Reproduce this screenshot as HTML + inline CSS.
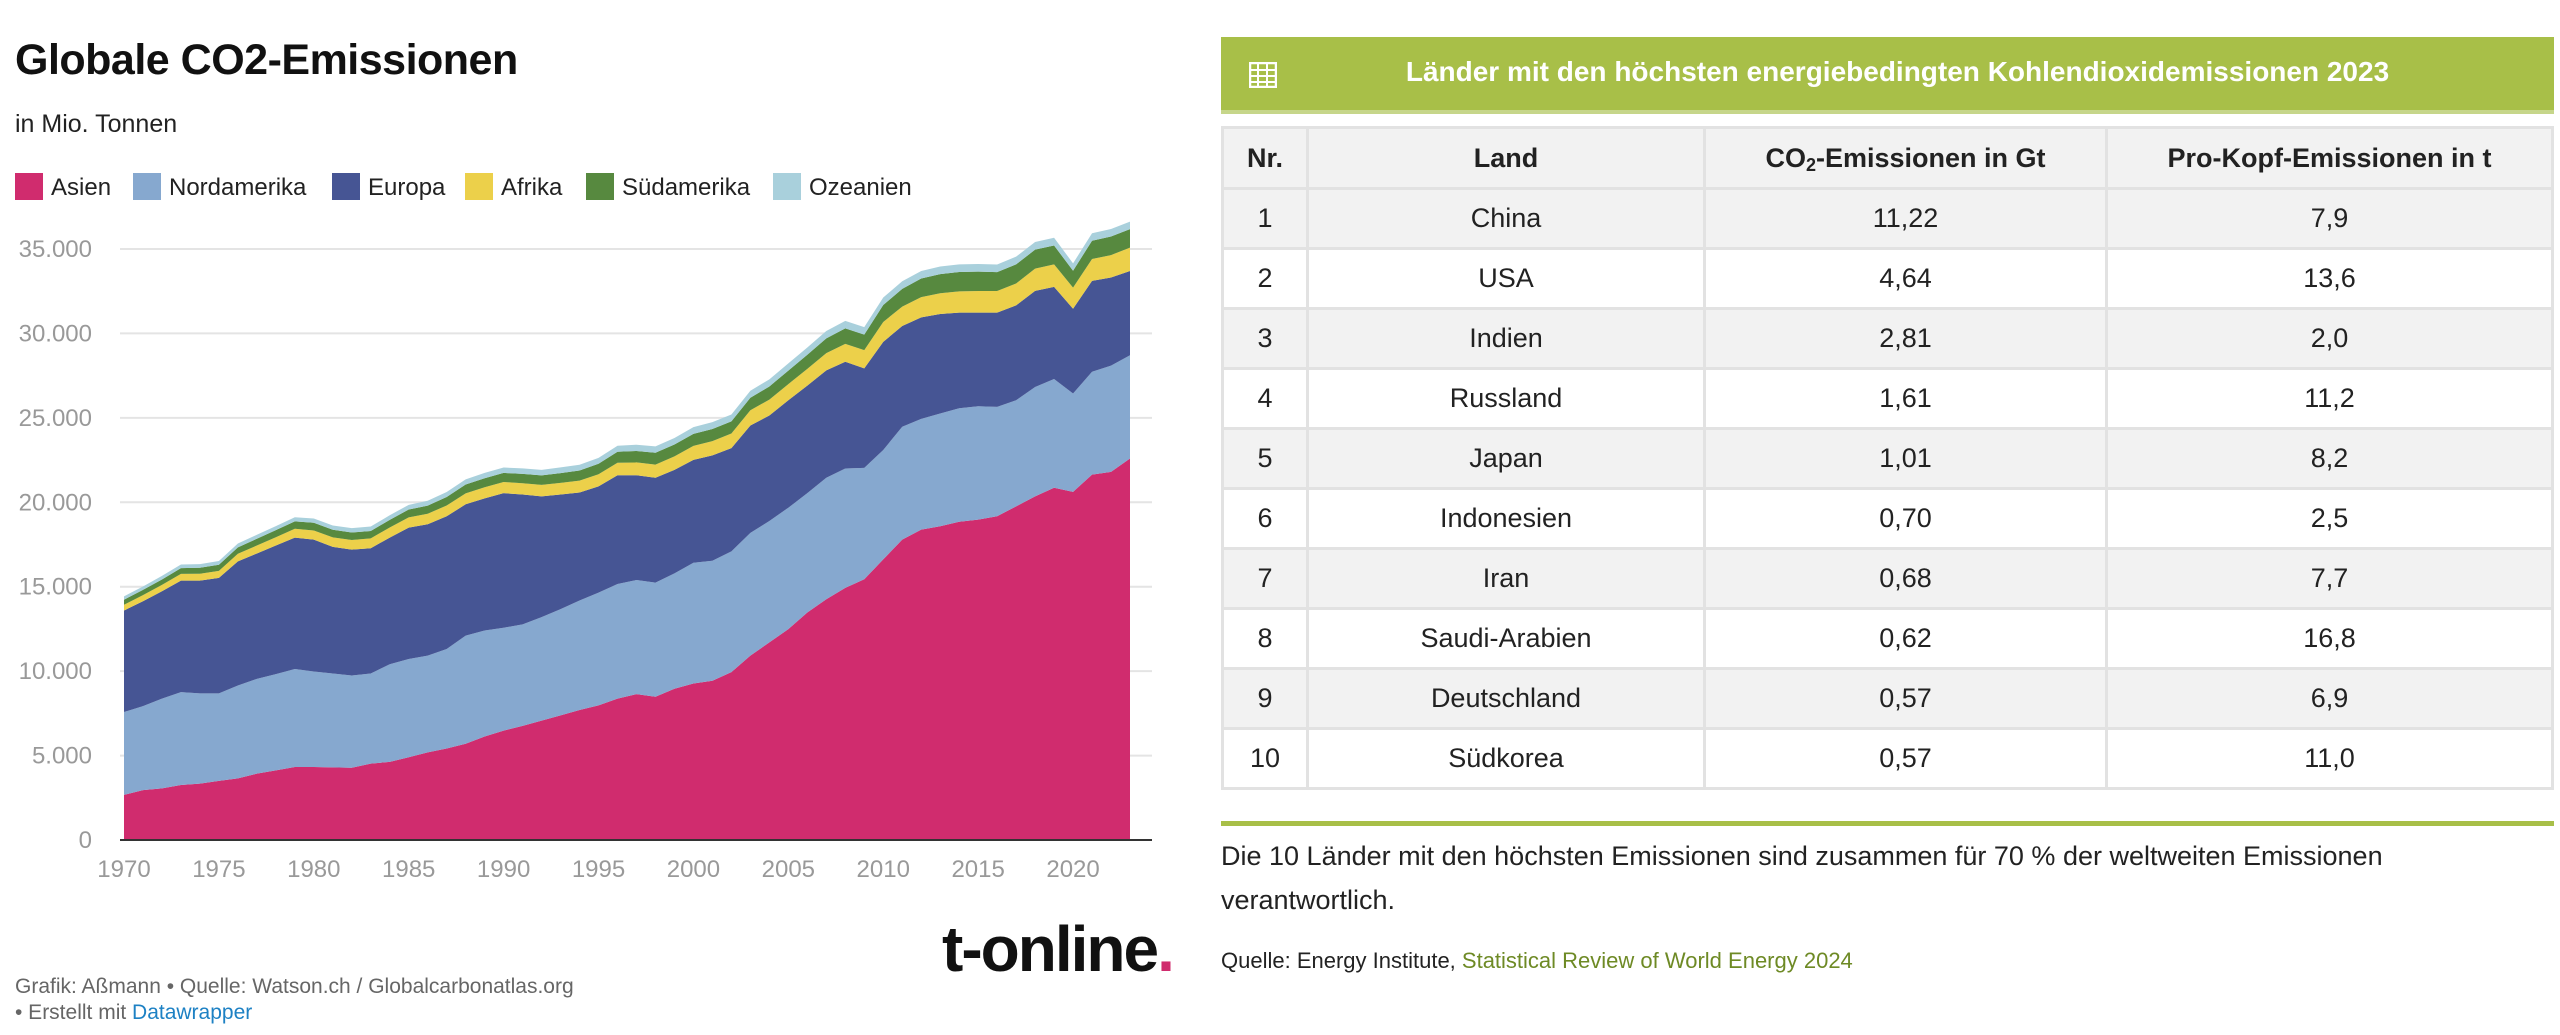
<!DOCTYPE html>
<html><head><meta charset="utf-8">
<style>
body{margin:0;width:2560px;height:1035px;background:#fff;font-family:"Liberation Sans",sans-serif;position:relative;overflow:hidden;color:#222}
.abs{position:absolute}
table{border-collapse:collapse;position:absolute;left:1221px;top:126px;width:1333px;font-size:27px;color:#222}
td,th{border:3px solid #e2e2e2;text-align:center;height:57px;padding:0}
th{background:#f2f2f2;font-weight:bold;height:58px}
sub{font-size:18px;line-height:0;position:relative;top:4px;vertical-align:baseline}
tr:nth-child(even) td{background:#f2f2f2}
</style></head><body>
<div class="abs" style="left:15px;top:36px;font-size:43px;font-weight:bold;color:#111;letter-spacing:-0.5px">Globale CO2-Emissionen</div>
<div class="abs" style="left:15px;top:110px;font-size:25px;color:#222">in Mio. Tonnen</div>
<svg id="chart" class="abs" style="left:0;top:0" width="1200" height="1035"></svg>
<div class="abs" style="left:942px;top:912px;font-size:64px;font-weight:bold;color:#111;letter-spacing:-2px">t-online<span style="color:#d02c6e">.</span></div>
<div class="abs" style="left:15px;top:975px;font-size:21px;color:#666">Grafik: Aßmann • Quelle: Watson.ch / Globalcarbonatlas.org</div>
<div class="abs" style="left:15px;top:1001px;font-size:21px;color:#666"> • Erstellt mit <span style="color:#1d81c4">Datawrapper</span></div>

<div class="abs" style="left:1221px;top:37px;width:1333px;height:77px;background:#a8bf48;border-bottom:4px solid #c6d68a;box-sizing:border-box">
 <svg class="abs" style="left:28px;top:25px" width="28" height="26"><rect x="1" y="1" width="26" height="24" fill="none" stroke="#fff" stroke-width="2.5"/><path d="M1 8H27M1 14H27M1 20H27M9 1V25M18 1V25" stroke="#fff" stroke-width="2"/></svg>
 <div class="abs" style="left:0;width:1333px;top:19px;text-align:center;color:#fff;font-weight:bold;font-size:28px;padding-left:10px">Länder mit den höchsten energiebedingten Kohlendioxidemissionen 2023</div>
</div>
<table>
<tr><th style="width:82px">Nr.</th><th style="width:394px">Land</th><th style="width:399px">CO<sub>2</sub>-Emissionen in Gt</th><th>Pro-Kopf-Emissionen in t</th></tr>
<tr><td>1</td><td>China</td><td>11,22</td><td>7,9</td></tr>
<tr><td>2</td><td>USA</td><td>4,64</td><td>13,6</td></tr>
<tr><td>3</td><td>Indien</td><td>2,81</td><td>2,0</td></tr>
<tr><td>4</td><td>Russland</td><td>1,61</td><td>11,2</td></tr>
<tr><td>5</td><td>Japan</td><td>1,01</td><td>8,2</td></tr>
<tr><td>6</td><td>Indonesien</td><td>0,70</td><td>2,5</td></tr>
<tr><td>7</td><td>Iran</td><td>0,68</td><td>7,7</td></tr>
<tr><td>8</td><td>Saudi-Arabien</td><td>0,62</td><td>16,8</td></tr>
<tr><td>9</td><td>Deutschland</td><td>0,57</td><td>6,9</td></tr>
<tr><td>10</td><td>Südkorea</td><td>0,57</td><td>11,0</td></tr>
</table>
<div class="abs" style="left:1221px;top:821px;width:1333px;height:5px;background:#a8bf48"></div>
<div class="abs" style="left:1221px;top:834px;width:1320px;font-size:27px;line-height:44px;color:#222">Die 10 Länder mit den höchsten Emissionen sind zusammen für 70 % der weltweiten Emissionen verantwortlich.</div>
<div class="abs" style="left:1221px;top:948px;font-size:22px;color:#222">Quelle: Energy Institute, <span style="color:#6e8a25">Statistical Review of World Energy 2024</span></div>

<script>
const years=[];for(let y=1970;y<=2023;y++)years.push(y);
const asien=[2670,2950,3060,3260,3340,3500,3650,3930,4120,4320,4320,4300,4280,4520,4630,4900,5190,5420,5700,6130,6480,6760,7070,7380,7700,7970,8370,8640,8480,8960,9270,9430,9940,10920,11700,12490,13470,14260,14930,15440,16620,17790,18380,18580,18850,18970,19170,19760,20350,20860,20620,21640,21800,22590];
const nordamerika=[4910,4980,5310,5500,5340,5180,5500,5610,5700,5810,5660,5560,5460,5340,5780,5820,5730,5890,6400,6280,6090,6010,6130,6290,6480,6680,6790,6760,6760,6830,7150,7110,7150,7270,7190,7190,7070,7190,7070,6600,6480,6680,6560,6680,6720,6720,6480,6280,6480,6440,5820,6090,6290,6120];
const europa=[6010,6210,6360,6600,6680,6840,7350,7430,7620,7780,7810,7500,7460,7420,7500,7780,7780,7860,7780,7820,7970,7690,7150,6790,6400,6290,6440,6200,6210,6130,6090,6240,6120,6360,6250,6360,6370,6360,6320,5890,6400,5970,6010,5890,5660,5540,5580,5620,5690,5460,5020,5380,5220,4990];
const afrika=[340,360,380,400,410,420,450,470,490,520,540,560,570,580,600,610,620,640,650,660,660,670,680,690,700,720,740,760,780,800,830,840,860,900,940,960,990,1020,1060,1080,1180,1150,1200,1230,1260,1280,1280,1300,1320,1330,1250,1300,1330,1380];
const suedamerika=[300,310,320,340,350,360,380,400,420,440,460,450,440,440,450,460,480,500,520,530,540,550,560,580,600,620,650,680,700,700,710,720,720,740,780,800,840,880,920,920,1000,1050,1100,1130,1150,1150,1120,1130,1120,1120,1000,1080,1100,1100];
const ozeanien=[200,205,210,215,220,225,230,235,240,245,250,255,260,265,270,280,290,300,310,320,320,325,330,335,340,350,360,370,380,390,400,405,410,415,420,425,430,435,440,440,445,450,450,450,450,450,450,455,455,455,440,445,445,440];
const seriesNames=["Asien","Nordamerika","Europa","Afrika","Südamerika","Ozeanien"];
const seriesData=[asien,nordamerika,europa,afrika,suedamerika,ozeanien];
const yTicks=[0,5000,10000,15000,20000,25000,30000,35000];
const yTickLabels=["0","5.000","10.000","15.000","20.000","25.000","30.000","35.000"];
const xTicks=[1970,1975,1980,1985,1990,1995,2000,2005,2010,2015,2020];
const colors=["#d02c6e","#86a8cf","#465594","#ecd04a","#57893f","#a9d0dc"];
const NS="http://www.w3.org/2000/svg";
const svg=document.getElementById('chart');
const X0=124,X1=1130,Y0=840,Y35=249;
const x=y=>X0+(y-1970)*(X1-X0)/(2023-1970);
const yv=v=>Y0-v*(Y0-Y35)/35000;
function mk(t,a){const e=document.createElementNS(NS,t);for(const k in a)e.setAttribute(k,a[k]);svg.appendChild(e);return e;}
yTicks.forEach((t,i)=>{
 if(t>0){const g=mk('line',{x1:X0-4,x2:1152,y1:yv(t),y2:yv(t),stroke:'#e4e4e4','stroke-width':2});
 
 }
 const l=mk('text',{x:92,y:yv(t)+8,'text-anchor':'end','font-size':24,fill:'#999','font-family':'Liberation Sans, sans-serif'});
 l.textContent=yTickLabels[i];
 
 
});
let base=years.map(()=>0);
seriesData.forEach((s,k)=>{
 const top=base.map((b,i)=>b+s[i]);
 let d='M'+years.map((y,i)=>x(y)+','+yv(top[i])).join('L');
 for(let i=years.length-1;i>=0;i--)d+='L'+x(years[i])+','+yv(base[i]);
 const p=mk('path',{d:d+'Z',fill:colors[k]});
 
 
 base=top;
});
const ax=mk('line',{x1:X0-4,x2:1152,y1:Y0,y2:Y0,stroke:'#333','stroke-width':2});


xTicks.forEach(t=>{
 const l=mk('text',{x:x(t),y:877,'text-anchor':'middle','font-size':24,fill:'#999','font-family':'Liberation Sans, sans-serif'});
 l.textContent=t;
 
 
});
const lx=[15,133,332,465,586,773];
seriesNames.forEach((n,k)=>{
 const r=mk('rect',{x:lx[k],y:173,width:28,height:27,fill:colors[k]});
 
 
 const t=mk('text',{x:lx[k]+36,y:195,'font-size':24,fill:'#222','font-family':'Liberation Sans, sans-serif'});
 t.textContent=n;
 
 
});
</script>
</body></html>
